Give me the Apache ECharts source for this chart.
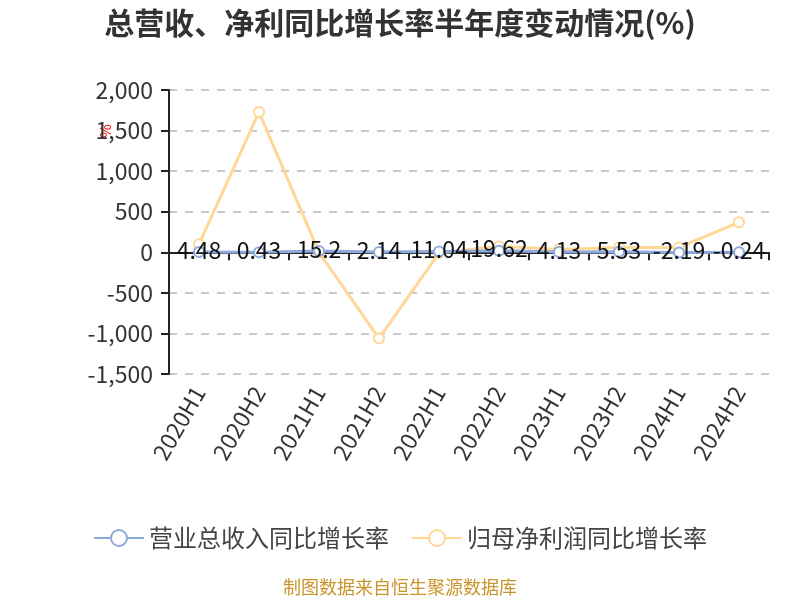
<!DOCTYPE html>
<html>
<head>
<meta charset="utf-8">
<script src="https://cdn.jsdelivr.net/npm/echarts@6/dist/echarts.min.js"></script>
<style>html,body{margin:0;padding:0;background:#fff}#c{width:800px;height:600px}</style>
</head>
<body>
<div id="c"></div>
<script>
const categories = ['2020H1','2020H2','2021H1','2021H2','2022H1','2022H2','2023H1','2023H2','2024H1','2024H2'];
const revenueGrowth = [4.48, 0.43, 15.2, 2.14, 11.04, 19.62, 4.13, 5.53, -2.19, -0.24];
const profitGrowth = [100, 1728, 0, -1062, -10, 75, 35, 60, 60, 370];
const seriesNames = ['营业总收入同比增长率', '归母净利润同比增长率'];
const titleText = '总营收、净利同比增长率半年度变动情况(%)';
const footerText = '制图数据来自恒生聚源数据库';
const unitText = '%';

const FONT = '"Noto Sans CJK SC", "Noto Sans", sans-serif';
const chart = echarts.init(document.getElementById('c'));
chart.setOption({
  backgroundColor: '#fff',
  animation: false,
  textStyle: { fontFamily: FONT },
  title: {
    text: titleText, left: 'center', top: 3,
    textStyle: { fontSize: 30, fontWeight: 'bold', color: '#333', fontFamily: FONT }
  },
  legend: {
    top: 521, left: 'center', itemWidth: 50, itemHeight: 20, itemGap: 22,
    textStyle: { fontSize: 24, color: '#444', fontFamily: FONT },
    data: seriesNames
  },
  grid: { left: 169, right: 31, top: 90, bottom: 226 },
  xAxis: [
    {
      type: 'category', data: categories, position: 'bottom',
      axisLine: { show: false, onZero: false }, axisTick: { show: false },
      axisLabel: { rotate: 60, fontSize: 23, color: '#333', margin: 14, interval: 0, fontFamily: FONT },
      splitLine: { show: false }
    },
    {
      type: 'category', data: categories, position: 'top',
      axisLine: { show: true, onZero: true, lineStyle: { color: '#222', width: 2 } },
      axisTick: { show: true, inside: true, length: 8, lineStyle: { color: '#222', width: 2 } },
      axisLabel: { show: false },
      splitLine: { show: false }
    }
  ],
  yAxis: {
    type: 'value', min: -1500, max: 2000, interval: 500,
    axisLine: { show: true, lineStyle: { color: '#222', width: 2 } },
    axisTick: { show: true, length: 8, lineStyle: { color: '#222', width: 2 } },
    axisLabel: { fontSize: 23, color: '#333', margin: 16, fontFamily: FONT },
    splitLine: { lineStyle: { type: [8, 8], color: '#c8c8c8', width: 2 } }
  },
  graphic: [
    { type: 'text', x: 105, y: 131, rotation: Math.PI / 2,
      style: { text: unitText, fill: '#e00', fontSize: 15, align: 'center', verticalAlign: 'middle', fontFamily: FONT } },
    { type: 'text', left: 'center', top: 578,
      style: { text: footerText, fill: '#c9952b', fontSize: 18, fontFamily: FONT } }
  ],
  series: [
    {
      name: seriesNames[0], type: 'line', data: revenueGrowth,
      symbol: 'circle', symbolSize: 10,
      itemStyle: { color: '#fff', borderColor: '#8eaadb', borderWidth: 2 },
      lineStyle: { color: '#8eaadb', width: 3 },
      label: { show: true, position: 'inside', offset: [0, -2], fontSize: 23, color: '#111', fontFamily: FONT },
      z: 3
    },
    {
      name: seriesNames[1], type: 'line', data: profitGrowth,
      symbol: 'circle', symbolSize: 10,
      itemStyle: { color: '#fff', borderColor: '#ffd797', borderWidth: 2 },
      lineStyle: { color: '#ffd797', width: 3 },
      z: 2
    }
  ]
});
</script>
</body>
</html>
